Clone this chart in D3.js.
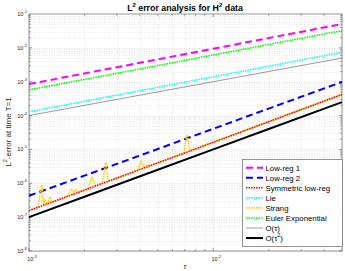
<!DOCTYPE html>
<html><head><meta charset="utf-8">
<script src="https://cdn.jsdelivr.net/npm/d3@7"></script>
<style>body{margin:0;background:#fff;} svg{display:block;font-family:"Liberation Sans",Arial,sans-serif;}</style>
</head><body><svg id="c" width="345" height="271"></svg>
<script>
// ---- data ----
const tauLines = [0.001, 0.002, 0.005, 0.01, 0.02, 0.05];
const lowReg1 = [8.5e-4, 1.76e-3, 4.57e-3, 9.44e-3, 1.95e-2, 5.07e-2];
const lowReg2 = [4.27e-7, 1.68e-6, 1.03e-5, 4.07e-5, 1.61e-4, 9.86e-4];
const symLowReg = [1.55e-7, 6.28e-7, 4.0e-6, 1.62e-5, 6.58e-5, 4.19e-4];
const lie = [1.29e-4, 2.64e-4, 6.82e-4, 1.40e-3, 2.87e-3, 7.41e-3];
const euler = [5.75e-4, 1.17e-3, 3.0e-3, 6.17e-3, 1.26e-2, 3.24e-2];
const orderOne = [1e-4, 2e-4, 5e-4, 1e-3, 2e-3, 5e-3];
const orderTwo = [1e-7, 4e-7, 2.5e-6, 1e-5, 4e-5, 2.5e-4];
const tauStrang = [0.001, 0.00112, 0.00117, 0.0012, 0.00122, 0.00126, 0.0013, 0.00134, 0.0016, 0.00171, 0.00175, 0.00179, 0.00185, 0.0021, 0.00219, 0.0023, 0.0025, 0.00261, 0.0027, 0.0035, 0.0039, 0.00405, 0.0042, 0.00436, 0.0045, 0.0065, 0.0069, 0.0072, 0.0075, 0.012, 0.02, 0.05];
const strang = [1.6e-7, 1.98e-7, 9e-7, 2.27e-7, 3.2e-7, 2.5e-7, 4e-7, 2.83e-7, 4.05e-7, 6.9e-7, 4.85e-7, 6.5e-7, 5.45e-7, 6.95e-7, 1.55e-6, 8.4e-7, 1.0e-6, 4e-6, 1.16e-6, 1.97e-6, 2.44e-6, 4.7e-6, 2.84e-6, 3.5e-6, 3.26e-6, 6.85e-6, 7.75e-6, 2.7e-5, 9.15e-6, 2.37e-5, 6.65e-5, 4.25e-4];
const xTicks = [1e-3, 1e-2];
const yTicks = [1e-8, 1e-7, 1e-6, 1e-5, 1e-4, 1e-3, 1e-2, 1e-1];
const legendLabels = ["Low-reg 1", "Low-reg 2", "Symmetric low-reg", "Lie", "Strang", "Euler Exponential", "O(\u03C4)", "O(\u03C4\u00B2)"];

const series = [
  {name: legendLabels[0], x: tauLines, y: lowReg1, color: "#ff00ff", w: 2, dash: "7,4"},
  {name: legendLabels[1], x: tauLines, y: lowReg2, color: "#0000ff", w: 2, dash: "7,4"},
  {name: legendLabels[2], x: tauLines, y: symLowReg, color: "#ff0000", w: 1.6, dash: "1.5,1"},
  {name: legendLabels[3], x: tauLines, y: lie, color: "#00ffff", w: 1.6, dash: "1.5,1"},
  {name: legendLabels[4], x: tauStrang, y: strang, color: "#ffcc00", w: 1.6, dash: "1.5,1"},
  {name: legendLabels[5], x: tauLines, y: euler, color: "#00ff00", w: 1.6, dash: "1.5,1"},
  {name: legendLabels[6], x: tauLines, y: orderOne, color: "#808080", w: 0.8, dash: null},
  {name: legendLabels[7], x: tauLines, y: orderTwo, color: "#000000", w: 2, dash: null}
];
// drawing order: Strang under Symmetric
const drawOrder = [6, 7, 0, 1, 4, 2, 3, 5];

const svg = d3.select("#c");
const L = 29, T = 14, R = 342, B = 251;
const x = d3.scaleLog().domain([1e-3, 5e-2]).range([L, R]);
const y = d3.scaleLog().domain([1e-8, 1e-1]).range([B, T]);

// grid
const g = svg.append("g");
const xMinor = [], yMinor = [];
for (let e = -3; e <= -2; e++) for (let m = 1; m <= 9; m++) { const v = m * Math.pow(10, e); if (v >= 1e-3 && v <= 5e-2) xMinor.push(v); }
for (let e = -8; e <= -2; e++) for (let m = 1; m <= 9; m++) { const v = m * Math.pow(10, e); if (v >= 1e-8 && v <= 1e-1) yMinor.push(v); }
g.selectAll(".gx").data(xMinor).join("line")
  .attr("x1", d => Math.round(x(d)) + 0.5).attr("x2", d => Math.round(x(d)) + 0.5)
  .attr("y1", T).attr("y2", B).attr("stroke", d => xTicks.includes(d) ? "#c8c8c8" : "#d8d8d8").attr("stroke-width", 0.6).attr("stroke-dasharray", "1,1.5");
g.selectAll(".gy").data(yMinor).join("line")
  .attr("y1", d => Math.round(y(d)) + 0.5).attr("y2", d => Math.round(y(d)) + 0.5)
  .attr("x1", L).attr("x2", R).attr("stroke", d => yTicks.includes(d) ? "#c8c8c8" : "#d8d8d8").attr("stroke-width", 0.6).attr("stroke-dasharray", "1,1.5");

// box & ticks
const ax = svg.append("g").attr("stroke", "#7a7a7a").attr("stroke-width", 0.8);
ax.append("rect").attr("x", L).attr("y", T).attr("width", R - L).attr("height", B - T).attr("fill", "none");
xMinor.forEach(v => {
  const len = xTicks.includes(v) ? 3 : 1.8, px = x(v);
  ax.append("line").attr("x1", px).attr("x2", px).attr("y1", B).attr("y2", B - len);
  ax.append("line").attr("x1", px).attr("x2", px).attr("y1", T).attr("y2", T + len);
});
yMinor.forEach(v => {
  const len = yTicks.includes(v) ? 3 : 1.8, py = y(v);
  ax.append("line").attr("y1", py).attr("y2", py).attr("x1", L).attr("x2", L + len);
  ax.append("line").attr("y1", py).attr("y2", py).attr("x1", R).attr("x2", R - len);
});

// series
const line = d3.line().x(d => x(d[0])).y(d => y(d[1]));
drawOrder.forEach(i => {
  const s = series[i];
  svg.append("path").datum(s.x.map((t, k) => [t, s.y[k]]))
    .attr("d", line).attr("fill", "none").attr("stroke", s.color)
    .attr("stroke-width", s.w).attr("stroke-dasharray", s.dash);
});

// tick labels
function pow10Label(sel, exp) {
  sel.append("tspan").text("10");
  sel.append("tspan").attr("font-size", 4).attr("dy", -3).text(exp);
}
yTicks.forEach(v => {
  const t = svg.append("text").attr("x", 27).attr("y", y(v) + 2).attr("text-anchor", "end")
    .attr("font-size", 5.5).attr("fill", "#262626");
  pow10Label(t, String(Math.round(Math.log10(v))));
});
xTicks.forEach(v => {
  const t = svg.append("text").attr("x", x(v) + 3).attr("y", 261).attr("text-anchor", "middle")
    .attr("font-size", 5.5).attr("fill", "#262626");
  pow10Label(t, String(Math.round(Math.log10(v))));
});

// title
const title = svg.append("text").attr("x", 185).attr("y", 10.5).attr("text-anchor", "middle")
  .attr("font-size", 8.8).attr("font-weight", "bold").attr("fill", "#000");
title.append("tspan").text("L");
title.append("tspan").attr("font-size", 6).attr("dy", -3.5).text("2");
title.append("tspan").attr("dy", 3.5).text(" error analysis for H");
title.append("tspan").attr("font-size", 6).attr("dy", -3.5).text("2");
title.append("tspan").attr("dy", 3.5).text(" data");

// axis labels
const yl = svg.append("text").attr("transform", "translate(10.5,132) rotate(-90)").attr("text-anchor", "middle")
  .attr("font-size", 8).attr("fill", "#262626");
yl.append("tspan").text("L");
yl.append("tspan").attr("font-size", 5.5).attr("dy", -3.5).text("2");
yl.append("tspan").attr("dy", 3.5).text("-error at time T=1");
svg.append("text").attr("x", 185).attr("y", 269).attr("text-anchor", "middle").attr("font-size", 7.5)
  .attr("font-style", "italic").attr("fill", "#262626").text("\u03C4");

// legend
const lg = svg.append("g");
const lx = 242.5, ly = 159.5, lw = 100, lh = 87;
lg.append("rect").attr("x", lx).attr("y", ly).attr("width", lw).attr("height", lh)
  .attr("fill", "#fff").attr("stroke", "#7a7a7a").attr("stroke-width", 0.8);
series.forEach((s, i) => {
  const yy = 167.7 + i * 10.05;
  lg.append("line").attr("x1", 246).attr("x2", 263).attr("y1", yy).attr("y2", yy)
    .attr("stroke", s.color).attr("stroke-width", s.w).attr("stroke-dasharray", s.dash);
  const t = lg.append("text").attr("x", 265.5).attr("y", yy + 2.8).attr("font-size", 7.8).attr("fill", "#000");
  if (i === 7) {
    t.append("tspan").text("O(\u03C4");
    t.append("tspan").attr("font-size", 5.5).attr("dy", -3.5).text("2");
    t.append("tspan").attr("dy", 3.5).text(")");
  } else t.text(s.name);
});
</script></body></html>
